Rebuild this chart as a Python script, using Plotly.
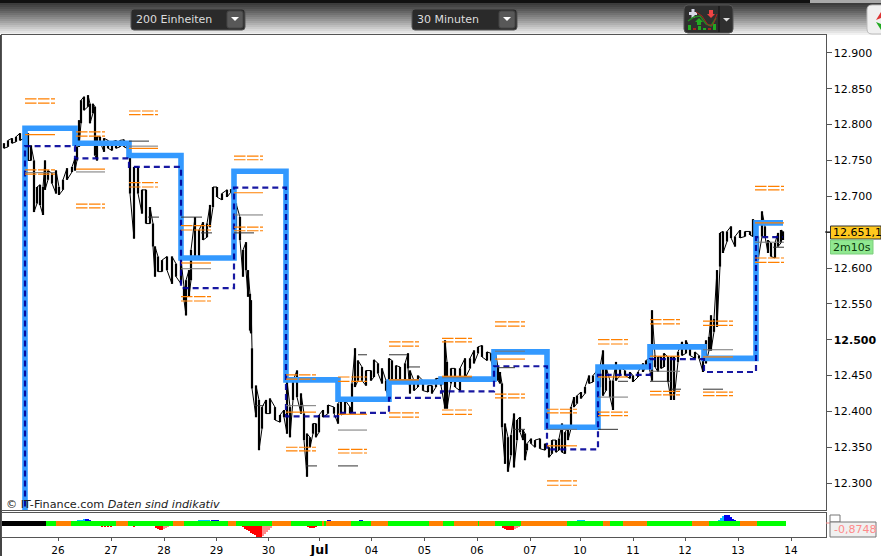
import plotly.graph_objects as go

W, H = 881, 556

# ---- price bars: bar number, high, low ----
bar_no = [4,8,12,16,20,24,28,31,34,37,40,43,45,48,52,56,59,63,67,72,75,77,79,81,84,88,90,93,95,97,100,104,108,112,116,120,124,127,130,134,138,142,146,150,153,155,158,162,167,172,176,181,184,186,189,191,195,199,203,207,210,213,217,222,227,231,233,236,240,243,246,248,250,251,252,256,259,262,266,270,275,280,284,287,290,293,297,301,304,307,310,313,316,319,323,328,334,338,341,345,350,352,355,358,362,366,371,374,378,382,386,389,392,396,400,405,408,410,414,418,423,428,432,436,441,445,447,451,455,460,465,470,474,478,482,487,491,495,498,500,502,505,508,511,514,517,520,523,525,527,531,535,540,545,549,552,556,559,562,565,568,571,574,577,581,585,589,593,597,600,603,606,610,613,616,620,625,630,633,638,643,646,649,652,655,658,661,664,668,671,674,678,682,686,690,695,699,703,706,709,711,714,717,720,723,727,731,735,740,745,750,753,758,762,765,768,771,775,778,781,783]
bar_high = [12774,12778,12781,12783,12788,12788,12788,12771,12750,12713,12716,12713,12750,12736,12732,12736,12713,12723,12739,12741,12753,12769,12806,12834,12839,12841,12829,12829,12825,12783,12783,12781,12778,12776,12778,12778,12779,12776,12767,12741,12741,12709,12709,12685,12662,12630,12616,12611,12616,12616,12606,12611,12574,12583,12597,12625,12671,12653,12664,12662,12688,12713,12713,12704,12709,12710,12690,12690,12671,12625,12636,12597,12564,12555,12488,12436,12416,12406,12416,12418,12406,12395,12402,12443,12406,12443,12457,12425,12397,12369,12364,12383,12383,12395,12402,12409,12406,12411,12416,12416,12406,12439,12488,12471,12462,12457,12457,12472,12467,12460,12443,12474,12471,12464,12462,12467,12481,12457,12443,12450,12443,12436,12436,12446,12446,12499,12469,12460,12460,12460,12474,12474,12485,12490,12492,12483,12481,12485,12462,12455,12439,12383,12364,12367,12397,12388,12392,12374,12369,12355,12362,12360,12362,12355,12350,12360,12360,12362,12383,12371,12378,12406,12420,12422,12427,12434,12450,12450,12457,12462,12485,12462,12443,12443,12469,12462,12457,12455,12450,12455,12467,12471,12474,12541,12478,12476,12476,12481,12476,12476,12476,12483,12497,12499,12488,12483,12478,12476,12499,12504,12534,12529,12597,12649,12651,12651,12658,12644,12653,12651,12651,12668,12644,12679,12658,12639,12635,12635,12649,12653,12651]
bar_low = [12767,12769,12774,12776,12778,12781,12750,12750,12678,12690,12688,12674,12709,12723,12718,12704,12702,12709,12723,12734,12736,12750,12769,12802,12820,12825,12802,12816,12757,12750,12776,12762,12767,12764,12767,12769,12769,12767,12704,12641,12704,12676,12662,12662,12630,12588,12595,12595,12597,12578,12588,12578,12555,12534,12560,12583,12616,12616,12639,12643,12657,12685,12699,12695,12699,12706,12639,12657,12639,12588,12597,12560,12513,12509,12432,12392,12346,12376,12397,12397,12388,12385,12392,12369,12364,12416,12420,12397,12360,12309,12350,12369,12364,12371,12392,12397,12397,12383,12395,12397,12397,12399,12434,12443,12443,12436,12443,12448,12453,12439,12429,12420,12443,12439,12439,12443,12460,12425,12429,12434,12429,12427,12425,12434,12436,12404,12404,12439,12434,12429,12446,12460,12467,12481,12476,12471,12471,12448,12443,12439,12378,12327,12316,12339,12322,12360,12371,12360,12332,12346,12355,12350,12348,12346,12336,12341,12343,12346,12343,12341,12360,12376,12406,12411,12418,12425,12439,12441,12420,12434,12422,12429,12420,12402,12443,12450,12450,12446,12441,12448,12455,12462,12462,12443,12462,12455,12460,12462,12441,12416,12416,12469,12478,12481,12478,12474,12474,12455,12467,12485,12485,12511,12518,12602,12621,12637,12642,12630,12642,12644,12646,12644,12611,12644,12644,12621,12616,12614,12630,12635,12639]

# ---- period steps ----
step_bar = [25,75,129,181,234,286,338,389,441,494,547,598,650,704,756,783]
blue_level = [12795,12774,12757,12614,12735,12444,12417,12441,12445,12483,12378,12462,12490,12474,12663,12663]
navy_level = [12770,12753,12741,12572,12712,12393,12398,12419,12428,12463,12347,12451,12473,12455,12643,12643]
below_chart = 12100

# ---- horizontal reference levels per period ----
period_start = [25,76,129,181,234,286,338,389,442,495,547,598,650,703,755]
period_end = [55,105,158,211,263,316,367,419,472,525,577,628,680,733,784]
orange_double = [
    [12836,12830,12737,12731],[12790,12784,12689,12684],[12819,12814,12719,12713],
    [12659,12653,12560,12554],[12756,12751,12657,12652],[12451,12445,12350,12345],
    [12448,12442,12347,12342],[12497,12491,12398,12392],[12502,12497,12402,12396],
    [12525,12519,12424,12419],[12403,12398,12303,12297],[12500,12494,12399,12394],
    [12528,12522,12428,12423],[12526,12520,12427,12422],[12714,12709,12614,12608]]
orange_single = [12786,12738,12767,12607,12705,12399,12396,12444,12449,12473,12352,12448,12477,12476,12663]
gray_single = [12733,12734,12770,12599,12674,12408,12374,12444,12447,12484,12375,12420,12456,12486,12636]
dark_seg_from = [129,181,148,201,234,254,306,338,358,389,409,497,513,618,598,650,671,703,773]
dark_seg_to = [149,202,159,212,254,264,317,358,367,407,420,515,525,628,618,671,681,723,784]
dark_seg_price = [12777,12671,12671,12649,12649,12408,12324,12324,12479,12479,12462,12461,12375,12442,12375,12442,12431,12431,12629]

# ---- lower indicator pane ----
strip_edges = [2,46,56,71,116,128,173,184,228,236,272,291,322,324,326,351,371,388,429,443,454,478,479,495,521,567,603,610,623,647,692,709,740,757,786]
strip_states = ["black","green","orange","green","orange","green","orange","green","orange","green","orange","green","orange","green","orange","green","orange","green","orange","green","orange","green","orange","green","orange","green","orange","green","orange","green","orange","green","orange","green"]
red_x = [102,105,108,111,134,156,158,160,162,243,245,247,249,251,253,255,257,259,261,308,310,312,314,316,503,505,507,509,511,513]
red_val = [-0.3,-0.35,-0.35,-0.3,-0.3,-0.4,-0.5,-0.6,-0.6,-0.35,-0.5,-0.6,-0.75,-0.9,-1.0,-1.1,-1.3,-1.35,-1.3,-0.35,-0.4,-0.45,-0.4,-0.35,-0.4,-0.5,-0.6,-0.65,-0.65,-0.65]
salmon_x = [164,166,168,263,265,267,269,271,515,517,519]
salmon_val = [-0.5,-0.45,-0.35,-1.2,-1.05,-0.85,-0.6,-0.4,-0.55,-0.45,-0.35]
blue_x = [86,88,90,92,212,214,216,218,220,222,328,330,360,362,364,586,588,590,725,727,729,731,733,735,738,740]
blue_val = [0.5,0.5,0.4,0.3,0.4,0.4,0.35,0.35,0.3,0.3,0.35,0.35,0.35,0.35,0.3,0.3,0.3,0.3,0.83,0.83,0.83,0.7,0.5,0.35,0.3,0.25]
cyan_x = [78,80,82,84,197,199,201,203,205,207,209,297,299,578,580,582,584,686,688,690,717,719,721,723]
cyan_val = [0.35,0.35,0.4,0.45,0.3,0.35,0.35,0.4,0.4,0.4,0.4,0.3,0.3,0.35,0.35,0.35,0.35,0.3,0.3,0.3,0.3,0.4,0.55,0.75]

# ---- axis labels ----
y_ticks = [12300,12350,12400,12450,12500,12550,12600,12650,12700,12750,12800,12850,12900]
y_labels = ["12.300","12.350","12.400","12.450","<b>12.500</b>","12.550","12.600","","12.700","12.750","12.800","12.850","12.900"]
x_ticks = [58,111,164,216.5,268.5,319.5,371.5,424.5,477,530,580,633,685,738,791]
x_labels = ["26","27","28","29","30","<b style='font-size:12.5px'>Jul</b>","04","05","06","07","10","11","12","13","14"]

FONT = "DejaVu Sans"
fig = go.Figure()

# thin connection between successive bars
zx, zy = [], []
for i, (b, hi, lo) in enumerate(zip(bar_no, bar_high, bar_low)):
    zx += [b, b]
    zy += [hi, lo] if i % 2 == 0 else [lo, hi]
fig.add_trace(go.Scatter(x=zx, y=zy, mode="lines", line=dict(color="#000", width=1.0),
                         hoverinfo="skip", showlegend=False))
# vertical high-low bars
vx, vy = [], []
for b, hi, lo in zip(bar_no, bar_high, bar_low):
    vx += [b, b, None]
    vy += [hi, lo, None]
fig.add_trace(go.Scatter(x=vx, y=vy, mode="lines", line=dict(color="#000", width=2.2),
                         hoverinfo="skip", showlegend=False))

# step lines
sx = [step_bar[0]] + step_bar
fig.add_trace(go.Scatter(x=sx, y=[below_chart] + blue_level, mode="lines",
                         line=dict(color="#3399FF", width=5.6, shape="hv"),
                         hoverinfo="skip", showlegend=False))
fig.add_trace(go.Scatter(x=sx, y=[below_chart] + navy_level, mode="lines",
                         line=dict(color="#000099", width=2.2, shape="hv", dash="6px,4px"),
                         opacity=0.9, hoverinfo="skip", showlegend=False))

def seg_trace(x0s, x1s, ys, color, width=1.0, dash=None):
    xs, yy = [], []
    for a, b, v in zip(x0s, x1s, ys):
        xs += [a, b, None]
        yy += [v, v, None]
    fig.add_trace(go.Scatter(x=xs, y=yy, mode="lines", line=dict(color=color, width=width, dash=dash),
                             hoverinfo="skip", showlegend=False))

seg_trace(period_start, period_end, gray_single, "#777777")
seg_trace(dark_seg_from, dark_seg_to, dark_seg_price, "#333333")
seg_trace(period_start, period_end, orange_single, "#FF8000", 1.2)
d0, d1, dv = [], [], []
for s, e, levels in zip(period_start, period_end, orange_double):
    for v in levels:
        d0.append(s); d1.append(e); dv.append(v)
seg_trace(d0, d1, dv, "#FF8000", 1.2, "11.5px,1.5px")

# indicator histogram
for xs, vs, col in [(red_x, red_val, "#FF0000"), (salmon_x, salmon_val, "#FF8A8A"),
                    (blue_x, blue_val, "#0000EE"), (cyan_x, cyan_val, "#00BBFF")]:
    fig.add_trace(go.Bar(x=xs, y=vs, width=2, marker=dict(color=col, line=dict(width=0)),
                         xaxis="x2", yaxis="y2", hoverinfo="skip", showlegend=False))

# state strip
strip_colors = {"black": "#000000", "green": "#00FF00", "orange": "#FF8000"}
for name, col in strip_colors.items():
    xs, yy = [], []
    for a, b, st in zip(strip_edges[:-1], strip_edges[1:], strip_states):
        if st == name:
            xs += [a, b, None]
            yy += [0, 0, None]
    fig.add_trace(go.Scatter(x=xs, y=yy, mode="lines", line=dict(color=col, width=5),
                             xaxis="x2", yaxis="y2", hoverinfo="skip", showlegend=False))

# ---- page furniture in pixel-derived paper coordinates ----
def X(v): return v / W
def Y(v): return 1 - v / H

shapes, notes = [], []

def rect(x0, y0, x1, y1, fill, line=None, lw=0, layer="below"):
    shapes.append(dict(type="rect", xref="paper", yref="paper", x0=X(x0), x1=X(x1), y0=Y(y0), y1=Y(y1),
                       fillcolor=fill, line=dict(color=line or fill, width=lw), layer=layer))

def rrect(x0, y0, x1, y1, r, fill, line="#555555", lw=1):
    p = (f"M{X(x0+r)},{Y(y0)} L{X(x1-r)},{Y(y0)} Q{X(x1)},{Y(y0)} {X(x1)},{Y(y0+r)} "
         f"L{X(x1)},{Y(y1-r)} Q{X(x1)},{Y(y1)} {X(x1-r)},{Y(y1)} L{X(x0+r)},{Y(y1)} "
         f"Q{X(x0)},{Y(y1)} {X(x0)},{Y(y1-r)} L{X(x0)},{Y(y0+r)} Q{X(x0)},{Y(y0)} {X(x0+r)},{Y(y0)} Z")
    shapes.append(dict(type="path", xref="paper", yref="paper", path=p, fillcolor=fill,
                       line=dict(color=line, width=lw), layer="above"))

def poly(points, fill=None, line=None, lw=1):
    p = "M" + " L".join(f"{X(a)},{Y(b)}" for a, b in points) + (" Z" if fill else "")
    shapes.append(dict(type="path", xref="paper", yref="paper", path=p,
                       fillcolor=fill or "rgba(0,0,0,0)", line=dict(color=line or "rgba(0,0,0,0)", width=lw), layer="above"))

def label(x, y, text, color="#000", size=12, anchor="left", bg=None):
    notes.append(dict(xref="paper", yref="paper", x=X(x), y=Y(y), text=text, showarrow=False,
                      xanchor=anchor, yanchor="middle", font=dict(family=FONT, size=size, color=color),
                      bgcolor=bg, borderpad=0))

# toolbar gradient
for i in range(0, 34, 2):
    g = int(60 + (255 - 60) * (i / 32) ** 1.1)
    rect(0, 3 + i, W, 5 + i, f"rgb({g},{g},{g})")
rect(0, 0, 810, 3, "#111111")
rect(810, 0, W, 3, "#A8A8A8")
rect(0, 35, 2, H, "#444444")

for x0, x1, txt in [(131, 245, "200 Einheiten"), (412, 517, "30 Minuten")]:
    rrect(x0, 9, x1, 30, 3, "#2A2A2A")
    rrect(x1 - 18, 11, x1 - 2, 28, 2, "#585858", "#444444")
    poly([(x1 - 14, 17), (x1 - 6, 17), (x1 - 10, 21)], fill="#FFFFFF")
    label(x0 + 4, 19, txt, "#DDDDDD", 11)

# indicator button
rrect(684, 5, 733, 33, 4, "#2F2F2F")
shapes.append(dict(type="line", xref="paper", yref="paper", x0=X(719), x1=X(719), y0=Y(6), y1=Y(32),
                   line=dict(color="#111", width=1), layer="above"))
poly([(723, 18), (730, 18), (726.5, 21.5)], fill="#DDDDDD")
rect(689, 12, 697, 15, "#D8D8E8", layer="above")
rect(691.5, 9, 694.5, 18, "#D8D8E8", layer="above")
poly([(688, 21), (694, 17), (700, 16), (706, 24), (711, 26), (716, 18)], line="#228B22", lw=1.5)
poly([(696, 12), (702, 16), (708, 25), (713, 25), (717, 14)], line="#AA2020", lw=1)
poly([(709, 10), (713, 10), (713, 14), (715, 14), (711, 18), (707, 14), (709, 14)], fill="#EE4444")
poly([(699, 18), (703, 22), (701, 22), (701, 25), (697, 25), (697, 22), (695, 22)], fill="#22AA22")
for bx, by, c in [(688, 25, "#22AA22"), (693, 28, "#AA2222"), (698, 26, "#22AA22"),
                  (703, 28, "#22AA22"), (708, 28, "#AA2222"), (713, 24, "#22AA22")]:
    rect(bx, by, bx + 3, 30, c, layer="above")

# corner icon
rrect(867, 5, 890, 34, 5, "#F0F0F0", "#BBBBBB")
poly([(876, 20), (881, 12), (881, 18)], fill="#DD3333")
poly([(876, 22), (881, 30), (881, 24)], fill="#22AA22")

# price flags
rect(830.5, 226, 881, 239, "#FFC81E", "#333333", 1, layer="above")
label(831.5, 232.5, "12.651,1", "#000", 11)
shapes.append(dict(type="line", xref="paper", yref="paper", x0=X(825), x1=X(830), y0=Y(232), y1=Y(232),
                   line=dict(color="#000", width=1), layer="above"))
rect(830.5, 240, 873, 254, "#90E890", "#7CCF7C", 1, layer="above")
label(832, 247, "2m10s", "#0A3A0A", 11)

# indicator read-out
rect(830, 515, 840, 522, "#FFFFFF", "#777777", 1, layer="above")
shapes.append(dict(type="line", xref="paper", yref="paper", x0=X(826), x1=X(830), y0=Y(523), y1=Y(523),
                   line=dict(color="#FF8A8A", width=1), layer="above"))
rect(830, 522, 876, 537, "#F0F0F0", "#777777", 1, layer="above")
label(832.5, 529.5, "-0,8748", "#FF8A8A", 11)

# watermark
label(5, 504.5, "© IT-Finance.com <i>Daten sind indikativ</i>", "#222222", 11.2)

axis_line = dict(showline=True, linecolor="#555555", linewidth=1, mirror=True, zeroline=False,
                 showgrid=False, automargin=False)
fig.update_layout(
    width=W, height=H, autosize=False,
    margin=dict(l=0, r=0, t=0, b=0, pad=0, autoexpand=False),
    paper_bgcolor="#FFFFFF", plot_bgcolor="#FFFFFF",
    showlegend=False, barmode="overlay", bargap=0,
    font=dict(family=FONT, size=12, color="#000"),
    xaxis=dict(domain=[2 / W, 825.5 / W], range=[2, 825.5], showticklabels=False, ticks="", **axis_line),
    yaxis=dict(domain=[46 / H, 521 / H], range=[12262.5, 12925], side="right", tickmode="array",
               tickvals=y_ticks, ticktext=y_labels, ticks="outside", ticklen=5, tickcolor="#555555",
               tickfont=dict(family=FONT, size=11), **axis_line),
    xaxis2=dict(domain=[2 / W, 825.5 / W], range=[2, 825.5], anchor="y2", tickmode="array",
                tickvals=x_ticks, ticktext=x_labels, ticks="outside", ticklen=3, tickcolor="#555555",
                tickfont=dict(family=FONT, size=10.5), tickangle=0, **axis_line),
    yaxis2=dict(domain=[19 / H, 43 / H], range=[-1.35, 1.05], anchor="x2", showticklabels=False, ticks="", **axis_line),
    shapes=shapes, annotations=notes,
)

fig.write_html("out.html", config={"displayModeBar": False},
               post_script="document.body.style.margin='0';")
